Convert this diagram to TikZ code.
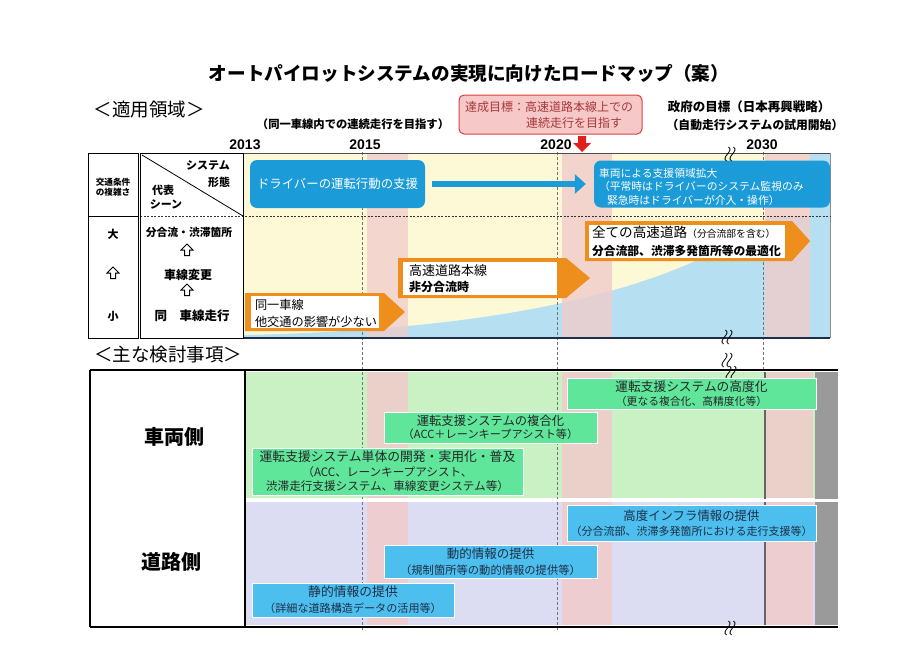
\documentclass[tikz,border=0pt]{standalone}
\usepackage{fontspec}
\setmainfont{Noto Sans CJK JP}
\newfontfamily\numfont{Liberation Sans}
\usetikzlibrary{arrows.meta}
\definecolor{cyel}{HTML}{FDF8D6}
\definecolor{cblu}{HTML}{B6E0F1}
\definecolor{cpnk}{HTML}{F0CBCB}
\definecolor{cgrnbg}{HTML}{C9F1C3}
\definecolor{clav}{HTML}{DCDCF3}
\definecolor{cgray}{HTML}{9A9A9A}
\definecolor{cbox}{HTML}{1B9BD7}
\definecolor{corg}{HTML}{EE8E1C}
\definecolor{cgbox}{HTML}{5FE69A}
\definecolor{cbbox}{HTML}{4DBFEE}
\definecolor{credf}{HTML}{F6C8C8}
\definecolor{credl}{HTML}{D8403C}
\definecolor{credt}{HTML}{A8383A}
\definecolor{cred}{HTML}{E0201C}
\definecolor{cnavy}{HTML}{1E2E48}
\newcommand\fsz[2]{\fontsize{#1}{#2}\selectfont}
\begin{document}
\begin{tikzpicture}[x=1pt,y=-1pt,
  txt/.style={inner sep=0pt,outer sep=0pt},
  bbox/.style={rounded corners=7pt, fill=cbox, text=white, inner sep=0pt},
  wbox/.style={fill=white, inner sep=0pt, text=black, align=left},
  gbox/.style={fill=cgbox, draw=white, line width=0.8pt, inner sep=0pt, align=center, text=black!85},
  rbox/.style={fill=cbbox, draw=white, line width=0.8pt, inner sep=0pt, align=center, text=cnavy},
  vdash/.style={draw=black!55, line width=0.6pt, dash pattern=on 3pt off 2pt},
  uparr/.pic={\draw[line width=1pt, line join=miter] (0,-6) -- (6,0) -- (2.5,0) -- (2.5,5.5) -- (-2.5,5.5) -- (-2.5,0) -- (-6,0) -- cycle;},
  brk/.pic={\foreach \dx in {-2.5,2.5}{\draw[line width=0.8pt] (\dx-1,7) .. controls (\dx-7,3) and (\dx+7,-3) .. (\dx+1,-7);}}
]
\useasboundingbox[fill=white] (0,0) rectangle (918,656);

% ---------- header texts ----------
\node[txt, font=\fsz{18.6}{21}\bfseries] (title) at (469,73) {オートパイロットシステムの実現に向けたロードマップ（案）};
\node[txt, font=\fsz{18.5}{20}] (sec1) at (149,110) {＜適用領域＞};
\node[txt, font=\fsz{11.3}{13}\bfseries] (goal1) at (353,124) {（同一車線内での連続走行を目指す）};
\node[draw=credl, fill=credf, rounded corners=5pt, line width=1pt, minimum width=183pt, minimum height=39pt] (redbox) at (550.5,114.5) {};
\node[txt, font=\fsz{12}{14}, text=credt] (rb1) at (549,107) {達成目標：高速道路本線上での};
\node[txt, font=\fsz{12}{14}, text=credt, anchor=west] (rb2) at (526,123) {連続走行を目指す};
\coordinate (ra) at (582,136);
\fill[cred] ([xshift=-4pt]ra) -- ([xshift=4pt]ra) -- ([xshift=4pt,yshift=-7pt]ra) -- ([xshift=9pt,yshift=-7pt]ra) -- ([yshift=-16pt]ra) -- ([xshift=-9pt,yshift=-7pt]ra) -- ([xshift=-4pt,yshift=-7pt]ra) -- cycle;
\node[txt, font=\fsz{12.5}{14}\bfseries] (gov1) at (749,107) {政府の目標（日本再興戦略）};
\node[txt, font=\fsz{11.8}{14}\bfseries] (gov2) at (755,125) {（自動走行システムの試用開始）};
\foreach \yr/\xx in {2013/245,2015/365,2020/556,2030/762}
  \node[txt, font={\fontsize{14}{16}\numfont\bfseries}] (y\yr) at (\xx,145) {\yr};

% ---------- top chart background ----------
\fill[cyel] (243,153) rectangle (830,338);
\fill[cblu] (243,338) -- (243,335) .. controls (500,330) and (680,290) .. (770,216) -- (830,216) -- (830,338) -- cycle;
\fill[cblu] (810,153) rectangle (830,216);
\fill[cpnk, opacity=.75] (367,153) rectangle (408,338);
\fill[cpnk, opacity=.8] (562,153) rectangle (612,338);
\fill[cpnk, opacity=.8] (765,153) rectangle (810,338);

% ---------- bottom chart background ----------
\fill[cgrnbg] (245,372) rectangle (815,498);
\fill[clav] (245,502) rectangle (815,625);
\foreach \a/\b in {367/408,562/612,765/813}{
  \fill[cpnk, opacity=.85] (\a,372) rectangle (\b,498);
  \fill[cpnk, opacity=.85] (\a,502) rectangle (\b,625);}
\fill[cgray] (815,372) rectangle (838,625);

% ---------- year lines ----------
\draw[vdash] (362,152) -- (362,632);
\draw[vdash] (557,152) -- (557,632);
\draw[vdash] (763,152) -- (763,372);
\draw[black!60, line width=1.2pt] (765,372) -- (765,625);

% ---------- top chart frame ----------
\draw[black!70, line width=0.6pt] (243,153) -- (830,153);
\draw[black!45, line width=0.8pt] (830,153) -- (830,338);
\draw[black!80, line width=0.8pt, dash pattern=on 2pt off 1.5pt] (140,216) -- (830,216);
\draw[cnavy, line width=1.6pt] (243,338) -- (830,338);

% ---------- left table ----------
\draw[line width=1pt] (88,153) rectangle (138,338);
\draw[line width=1pt] (88,216) -- (138,216);
\draw[line width=1pt] (140,153) rectangle (243,338);
\draw[line width=0.8pt] (142,155) -- (243,216);
\node[txt, font=\fsz{8.6}{10}\bfseries, align=center] (kc) at (113,187) {交通条件\\の複雑さ};
\node[txt, font=\fsz{11}{12}\bfseries] (dai) at (113,234) {大};
\pic at (113,273) {uparr};
\node[txt, font=\fsz{11}{12}\bfseries] (sho) at (113,316) {小};
\node[txt, font=\fsz{11}{12}\bfseries] (sys) at (208,165) {システム};
\node[txt, font=\fsz{11}{12}\bfseries] (kt) at (219,182) {形態};
\node[txt, font=\fsz{11}{12}\bfseries] (dh) at (163,190) {代表};
\node[txt, font=\fsz{11}{12}\bfseries] (sn) at (166,204) {シーン};
\node[txt, font=\fsz{10.8}{12}\bfseries] (bg) at (189,232) {分合流・渋滞箇所};
\pic at (187,250) {uparr};
\node[txt, font=\fsz{12}{13}\bfseries] (sh) at (188,275) {車線変更};
\pic at (187,290) {uparr};
\node[txt, font=\fsz{12.5}{13}\bfseries] (dsh) at (192,316) {同　車線走行};

% ---------- top chart boxes ----------
\node[bbox, minimum width=175pt, minimum height=48pt, font=\fsz{12.4}{14}] (b1) at (337.5,184) {ドライバーの運転行動の支援};
\node[bbox, minimum width=236pt, minimum height=47pt] (b2) at (712,184) {};
\node[txt, anchor=west, text=white, font=\fsz{10.8}{13.5}, align=left] (b2t) at (599,186.5) {車両による支援領域拡大\\（平常時はドライバーのシステム監視のみ\\\hspace*{8pt}緊急時はドライバーが介入・操作）};
\draw[cbox, line width=6.5pt, -{Triangle[length=11pt,width=19pt]}] ([xshift=7pt]b1.east) -- ([xshift=-8pt]b2.west);

% orange arrows
\fill[corg] (245,293) -- (384,293) -- (405,312) -- (384,331) -- (245,331) -- cycle;
\node[wbox, anchor=north west, minimum width=128pt, minimum height=32pt] (o1) at (251,296) {};
\node[txt, anchor=west, font=\fsz{12.2}{17}, align=left] (o1t) at (255,313) {同一車線\\他交通の影響が少ない};
\fill[corg] (398,258) -- (566,258) -- (590,278) -- (566,298) -- (398,298) -- cycle;
\node[wbox, anchor=north west, minimum width=154pt, minimum height=33pt] (o2) at (403,262) {};
\node[txt, anchor=west, font=\fsz{13}{16}, align=left] (o2t) at (409,278.5) {高速道路本線\\{\fsz{12}{16}\bfseries 非分合流時}};
\fill[corg] (585,221) -- (792,221) -- (810,241) -- (792,261) -- (585,261) -- cycle;
\node[wbox, anchor=north west, minimum width=196pt, minimum height=33pt] (o3) at (589,225) {};
\node[txt, anchor=west, font=\fsz{11.8}{18}, align=left] (o3t) at (592,241.5) {{\fsz{13.6}{18}全ての高速道路}{\fsz{9.8}{18}（分合流部を含む）}\\\bfseries 分合流部、渋滞多発箇所等の最適化};

% break marks
\pic at (730,154) {brk};
\pic at (727,337) {brk};
\pic at (727,360) {brk};
\pic at (731,373) {brk};
\pic at (730,628) {brk};

% ---------- bottom chart ----------
\node[txt, font=\fsz{18.5}{20}] (sec2) at (168,355) {＜主な検討事項＞};
\draw[white, line width=3pt] (245,500) -- (838,500);
\draw[line width=1.2pt] (90,370) -- (838,370);
\draw[line width=1.2pt] (90,627) -- (838,627);
\draw[line width=1.2pt] (90,370) -- (90,627);
\draw[line width=1.2pt] (245,370) -- (245,627);
\node[txt, font=\fsz{20}{22}\bfseries] (veh) at (174,437) {車両側};
\node[txt, font=\fsz{20}{22}\bfseries] (road) at (171,562) {道路側};

\node[gbox, minimum width=249pt, minimum height=31pt, font=\fsz{10.8}{14}] (g1) at (691.5,393.5) {{\fsz{12.7}{14}運転支援システムの高度化}\\（更なる複合化、高精度化等）};
\node[gbox, minimum width=213pt, minimum height=31pt, font=\fsz{11.2}{13.5}] (g2) at (490.5,427.5) {{\fsz{12.3}{13.5}運転支援システムの複合化}\\（ACC＋レーンキープアシスト等）};
\node[gbox, minimum width=271pt, minimum height=47pt, font=\fsz{11.6}{14.5}] (g3) at (387.5,471.5) {{\fsz{12.8}{14.5}運転支援システム単体の開発・実用化・普及}\\（ACC、レーンキープアシスト、\\渋滞走行支援システム、車線変更システム等）};

\node[rbox, minimum width=249pt, minimum height=36pt, font=\fsz{11}{15}] (r1) at (691.5,523) {{\fsz{12.4}{15}高度インフラ情報の提供}\\（分合流部、渋滞多発箇所における走行支援等）};
\node[rbox, minimum width=213pt, minimum height=33pt, font=\fsz{11.3}{16}] (r2) at (490.5,561.5) {{\fsz{12.5}{16}動的情報の提供}\\（規制箇所等の動的情報の提供等）};
\node[rbox, minimum width=202pt, minimum height=34pt, font=\fsz{11.1}{16}] (r3) at (353,600) {{\fsz{12.8}{16}静的情報の提供}\\（詳細な道路構造データの活用等）};
\end{tikzpicture}
\end{document}
